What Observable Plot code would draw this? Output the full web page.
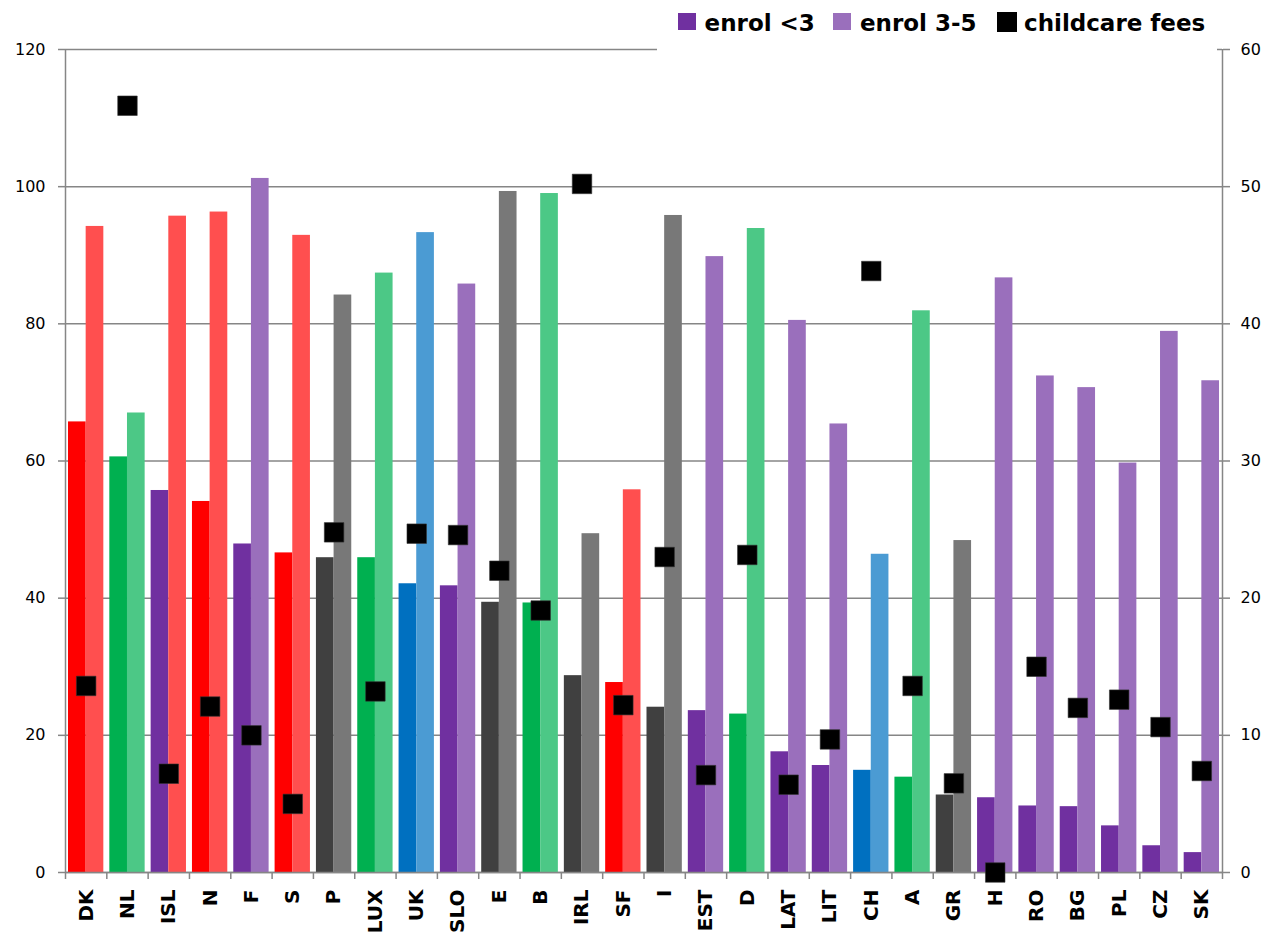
<!DOCTYPE html>
<html>
<head>
<meta charset="utf-8">
<script src="https://cdn.jsdelivr.net/npm/d3@7"></script>
<script src="https://cdn.jsdelivr.net/npm/@observablehq/plot@0.6"></script>
<style>
  body { margin: 0; background: #fff; }
  #wrap { position: relative; width: 1269px; height: 934px; overflow: hidden; }
  #legend { position: absolute; left: 657px; top: 0; width: 560px; height: 52px; background: #fff;
            font-family: "DejaVu Sans", sans-serif; font-weight: bold; font-size: 23px; color: #000; }
  #legend .sw { position: absolute; }
  #legend .tx { position: absolute; top: 12px; line-height: 23px; white-space: nowrap; }
</style>
</head>
<body>
<div id="wrap">
  <div id="chart"></div>
  <div id="legend"></div>
</div>
<script>
// ---- data ----
const countries = ["DK","NL","ISL","N","F","S","P","LUX","UK","SLO","E","B","IRL","SF","I","EST","D","LAT","LIT","CH","A","GR","H","RO","BG","PL","CZ","SK"];
const enrolUnder3 = [65.7, 60.6, 55.7, 54.1, 47.9, 46.6, 45.9, 45.9, 42.1, 41.8, 39.4, 39.3, 28.7, 27.7, 24.1, 23.6, 23.1, 17.6, 15.6, 14.9, 13.9, 11.3, 10.9, 9.7, 9.6, 6.8, 3.9, 2.9];
const enrol3to5 = [94.2, 67.0, 95.7, 96.3, 101.2, 92.9, 84.2, 87.4, 93.3, 85.8, 99.3, 99.0, 49.4, 55.8, 95.8, 89.8, 93.9, 80.5, 65.4, 46.4, 81.9, 48.4, 86.7, 72.4, 70.7, 59.7, 78.9, 71.7];
const childcareFees = [13.6, 55.9, 7.2, 12.1, 10.0, 5.0, 24.8, 13.2, 24.7, 24.6, 22.0, 19.1, 50.2, 12.2, 23.0, 7.1, 23.15, 6.4, 9.7, 43.85, 13.6, 6.5, 0, 15.0, 12.0, 12.6, 10.6, 7.4];
const groupUnder3 = ["red","green","purple","red","purple","red","gray","green","blue","purple","gray","green","gray","red","gray","purple","green","purple","purple","blue","green","gray","purple","purple","purple","purple","purple","purple"];
const group3to5  = ["red","green","red","red","purple","red","gray","green","blue","purple","gray","green","gray","red","gray","purple","green","purple","purple","blue","green","gray","purple","purple","purple","purple","purple","purple"];
const leftTicks = [0, 20, 40, 60, 80, 100, 120];
const legendLabels = ["enrol <3", "enrol 3-5", "childcare fees"];

// ---- styles ----
const darkColors  = {red: "#FF0000", green: "#00B050", purple: "#7030A0", gray: "#404040", blue: "#0070C0"};
const lightColors = {red: "#FF4F4F", green: "#4CC886", purple: "#9A6FBC", gray: "#787878", blue: "#4B9BD3"};
const W = 1269, H = 934, mT = 49, mB = 62, mL = 65, mR = 47;
const padInner = 0.145;
const step = (W - mL - mR) / countries.length;
const half = step * (1 - padInner) / 2;
const axisGray = "#868686";

const barsU3 = countries.map((c, i) => ({country: c, value: enrolUnder3[i], color: darkColors[groupUnder3[i]]}));
const bars35 = countries.map((c, i) => ({country: c, value: enrol3to5[i], color: lightColors[group3to5[i]]}));
const fees = countries.map((c, i) => ({country: c, fee: childcareFees[i]}));

const chart = Plot.plot({
  width: W, height: H,
  marginTop: mT, marginBottom: mB, marginLeft: mL, marginRight: mR,
  style: {fontFamily: "DejaVu Sans, sans-serif", background: "#fff", color: "#000"},
  x: {domain: countries, paddingInner: padInner, paddingOuter: padInner / 2, round: false},
  y: {domain: [0, 120]},
  color: {type: "identity"},
  marks: [
    Plot.gridY(leftTicks, {stroke: axisGray, strokeOpacity: 1, strokeWidth: 1.5}),
    Plot.barY(barsU3, {x: "country", y: "value", fill: "color", insetRight: half}),
    Plot.barY(bars35, {x: "country", y: "value", fill: "color", insetLeft: half}),
    Plot.ruleX([countries[0]], {x: d => d, dx: -step / 2, stroke: axisGray, strokeWidth: 1.5}),
    Plot.ruleX([countries[countries.length - 1]], {x: d => d, dx: step / 2, stroke: axisGray, strokeWidth: 1.5}),
    Plot.ruleY([0], {stroke: axisGray, strokeWidth: 1.5}),
    Plot.axisY(leftTicks, {anchor: "left", tickSize: 7, tickPadding: 13, stroke: axisGray, strokeWidth: 1.5, fill: "#000", fontSize: 16, label: null}),
    Plot.axisY(leftTicks, {anchor: "right", tickSize: 7, tickPadding: 11, stroke: axisGray, strokeWidth: 1.5, fill: "#000", fontSize: 16, label: null, tickFormat: d => d / 2}),
    Plot.axisX({tickSize: 7, tickFormat: () => "", dx: -step / 2, stroke: axisGray, strokeWidth: 1.5, label: null}),
    Plot.axisX([countries[countries.length - 1]], {tickSize: 7, tickFormat: () => "", dx: step / 2, stroke: axisGray, strokeWidth: 1.5, label: null}),
    Plot.axisX({tickSize: 0, tickPadding: 17, tickRotate: -90, fill: "#000", fontSize: 20, fontWeight: "bold", label: null}),
    Plot.dot(fees, {x: "country", y: d => d.fee * 2, symbol: "square", r: 11, fill: "#000", stroke: "#333", strokeWidth: 0.6})
  ]
});
document.getElementById("chart").appendChild(chart);

// ---- legend ----
const legend = document.getElementById("legend");
const legendItems = [
  {label: legendLabels[0], color: darkColors.purple, sw: [21, 13, 18, 17], tx: 47.6},
  {label: legendLabels[1], color: lightColors.purple, sw: [176, 13, 18, 17], tx: 203},
  {label: legendLabels[2], color: "#000", sw: [340, 12, 20, 20], tx: 367}
];
for (const it of legendItems) {
  const s = document.createElement("div");
  s.className = "sw";
  s.style.left = it.sw[0] + "px"; s.style.top = it.sw[1] + "px";
  s.style.width = it.sw[2] + "px"; s.style.height = it.sw[3] + "px";
  s.style.background = it.color;
  legend.appendChild(s);
  const t = document.createElement("div");
  t.className = "tx";
  t.style.left = it.tx + "px";
  t.textContent = it.label;
  legend.appendChild(t);
}
</script>
</body>
</html>
